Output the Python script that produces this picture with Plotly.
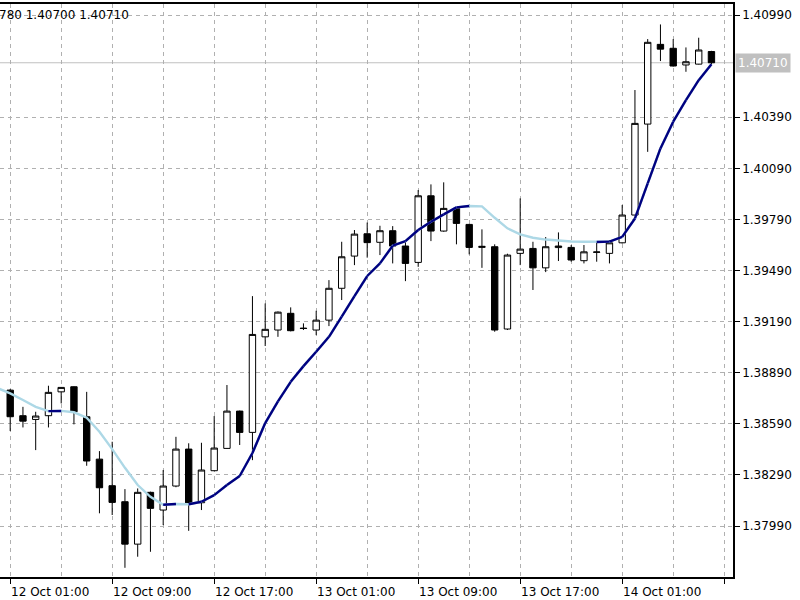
import pandas as pd
import plotly.graph_objects as go

# ---------------- data ----------------
bar_times = pd.date_range("2010-10-12 01:00", periods=56, freq="h")

opens = [1.38788, 1.38638, 1.38616, 1.38638, 1.38778, 1.38808, 1.38632, 1.38383, 1.38227, 1.38133,
         1.37884, 1.38188, 1.38084, 1.38225, 1.38442, 1.38127, 1.38315, 1.38446, 1.38665, 1.38540,
         1.39101, 1.39141, 1.39239, 1.39152, 1.39141, 1.39199, 1.39386, 1.39575, 1.39706, 1.39656,
         1.39724, 1.39634, 1.39538, 1.39929, 1.39722, 1.39855, 1.39761, 1.39626, 1.39630, 1.39147,
         1.39591, 1.39620, 1.39506, 1.39625, 1.39626, 1.39548, 1.39597, 1.39591, 1.39653, 1.39816,
         1.40350, 1.40818, 1.40795, 1.40697, 1.40702, 1.40776]
highs = [1.38794, 1.38690, 1.38661, 1.38814, 1.38806, 1.38810, 1.38778, 1.38430, 1.38485, 1.38207,
         1.38211, 1.38192, 1.38319, 1.38514, 1.38476, 1.38479, 1.38636, 1.38818, 1.38668, 1.39340,
         1.39297, 1.39250, 1.39274, 1.39180, 1.39254, 1.39434, 1.39659, 1.39728, 1.39772, 1.39753,
         1.39751, 1.39669, 1.39963, 1.39996, 1.40008, 1.39858, 1.39764, 1.39732, 1.39644, 1.39589,
         1.39914, 1.39659, 1.39687, 1.39714, 1.39640, 1.39640, 1.39656, 1.39669, 1.39875, 1.40550,
         1.40849, 1.40935, 1.40849, 1.40800, 1.40857, 1.40780]
lows = [1.38548, 1.38569, 1.38436, 1.38569, 1.38710, 1.38587, 1.38344, 1.38065, 1.38055, 1.37745,
        1.37810, 1.37839, 1.37996, 1.38218, 1.37962, 1.38084, 1.38312, 1.38444, 1.38466, 1.38377,
        1.39047, 1.39101, 1.39133, 1.39141, 1.39111, 1.39164, 1.39317, 1.39522, 1.39566, 1.39581,
        1.39532, 1.39428, 1.39512, 1.39663, 1.39718, 1.39644, 1.39585, 1.39506, 1.39131, 1.39141,
        1.39522, 1.39376, 1.39481, 1.39546, 1.39542, 1.39532, 1.39542, 1.39532, 1.39649, 1.39812,
        1.40187, 1.40720, 1.40688, 1.40657, 1.40700, 1.40700]
closes = [1.38632, 1.38606, 1.38636, 1.38775, 1.38804, 1.38661, 1.38372, 1.38215, 1.38129, 1.37884,
          1.38188, 1.38094, 1.38225, 1.38442, 1.38123, 1.38319, 1.38448, 1.38665, 1.38540, 1.39115,
          1.39145, 1.39246, 1.39137, 1.39150, 1.39199, 1.39386, 1.39571, 1.39704, 1.39654, 1.39724,
          1.39634, 1.39532, 1.39929, 1.39722, 1.39855, 1.39767, 1.39626, 1.39632, 1.39141, 1.39581,
          1.39616, 1.39506, 1.39630, 1.39634, 1.39552, 1.39600, 1.39599, 1.39653, 1.39816, 1.40354,
          1.40830, 1.40790, 1.40691, 1.40716, 1.40785, 1.40710]

ma_times = pd.date_range("2010-10-12 00:00", periods=57, freq="h")
ma_values = [1.38800, 1.38769, 1.38730, 1.38690, 1.38665, 1.38666, 1.38658, 1.38626, 1.38544, 1.38442,
             1.38332, 1.38231, 1.38162, 1.38115, 1.38120, 1.38118, 1.38133, 1.38172, 1.38231, 1.38284,
             1.38419, 1.38595, 1.38722, 1.38837, 1.38929, 1.39013, 1.39101, 1.39219, 1.39340, 1.39458,
             1.39532, 1.39636, 1.39663, 1.39728, 1.39777, 1.39820, 1.39861, 1.39869, 1.39867, 1.39800,
             1.39738, 1.39703, 1.39683, 1.39672, 1.39665, 1.39661, 1.39659, 1.39658, 1.39660, 1.39688,
             1.39796, 1.40002, 1.40207, 1.40364, 1.40491, 1.40608, 1.40701]

y_tick_values = [1.37990, 1.38290, 1.38590, 1.38890, 1.39190, 1.39490, 1.39790, 1.40090, 1.40390, 1.40990]
bid_price = 1.40710
header_text = "780 1.40700 1.40710"

# ---------------- figure ----------------
FONT = "DejaVu Sans"
GRID = "#B0B0B0"

fig = go.Figure()

fig.add_trace(go.Candlestick(
    x=bar_times, open=opens, high=highs, low=lows, close=closes,
    increasing=dict(line=dict(color="black", width=1), fillcolor="white"),
    decreasing=dict(line=dict(color="black", width=1), fillcolor="black"),
    whiskerwidth=0, showlegend=False, hoverinfo="skip",
))

# falling colour (full line underneath)
fig.add_trace(go.Scatter(
    x=ma_times, y=ma_values, mode="lines",
    line=dict(color="#ADD8E6", width=2.4), showlegend=False, hoverinfo="skip",
))

# rising segments drawn on top
seg_x, seg_y = [], []
for i in range(1, len(ma_values)):
    if ma_values[i] > ma_values[i - 1]:
        seg_x += [ma_times[i - 1], ma_times[i], None]
        seg_y += [ma_values[i - 1], ma_values[i], None]
fig.add_trace(go.Scatter(
    x=seg_x, y=seg_y, mode="lines", connectgaps=False,
    line=dict(color="#000080", width=2.4), showlegend=False, hoverinfo="skip",
))

t0 = bar_times[0]
x_range = [(t0 - pd.Timedelta(hours=0.8)).isoformat(), (t0 + pd.Timedelta(hours=56.69)).isoformat()]

fig.add_shape(type="line", xref="paper", x0=0, x1=1, yref="y", y0=bid_price, y1=bid_price,
              line=dict(color="#C0C0C0", width=1), layer="below")

fig.add_annotation(xref="paper", x=1, yref="y", y=bid_price, xanchor="left", yanchor="middle",
                   xshift=2, text=f"{bid_price:.5f}", showarrow=False,
                   font=dict(family=FONT, size=12, color="white"), bgcolor="#C0C0C0",
                   borderpad=2)

fig.add_annotation(xref="paper", x=0, yref="paper", y=1, xanchor="left", yanchor="top",
                   xshift=-3, yshift=-2, text=header_text, showarrow=False,
                   font=dict(family=FONT, size=12, color="black"))

fig.update_layout(
    width=800, height=600,
    margin=dict(l=0, r=67, t=4, b=23),
    paper_bgcolor="white", plot_bgcolor="white",
    showlegend=False,
    boxgap=0.5, boxgroupgap=0,
    font=dict(family=FONT, size=12, color="black"),
    xaxis=dict(
        type="date", range=x_range, rangeslider=dict(visible=False),
        tick0=t0.isoformat(), dtick=8 * 3600 * 1000, tickformat="%d %b %H:%M",
        ticks="outside", ticklen=5, tickcolor="black", ticklabelshift=40,
        ticklabelstandoff=-2,
        showgrid=True, gridcolor=GRID, griddash="4px,4px", gridwidth=1,
        minor=dict(dtick=4 * 3600 * 1000, tick0=t0.isoformat(), showgrid=True,
                   gridcolor=GRID, griddash="4px,4px", gridwidth=1, ticks=""),
        showline=True, linecolor="black", linewidth=1.5, mirror=True,
        zeroline=False, fixedrange=True,
        tickfont=dict(family=FONT, size=12, color="black"),
    ),
    yaxis=dict(
        side="right", range=[1.37691, 1.41055],
        tickvals=y_tick_values, ticktext=[f"{v:.5f}" for v in y_tick_values],
        ticks="outside", ticklen=5, tickcolor="black",
        showgrid=True, gridcolor=GRID, griddash="4px,4px", gridwidth=1,
        showline=True, linecolor="black", linewidth=1.5,
        zeroline=False, fixedrange=True,
        tickfont=dict(family=FONT, size=12, color="black"),
    ),
)

fig.write_html(
    "out.html",
    config={"displayModeBar": False},
    post_script="document.body.style.margin='0';document.body.style.overflow='hidden';",
)
